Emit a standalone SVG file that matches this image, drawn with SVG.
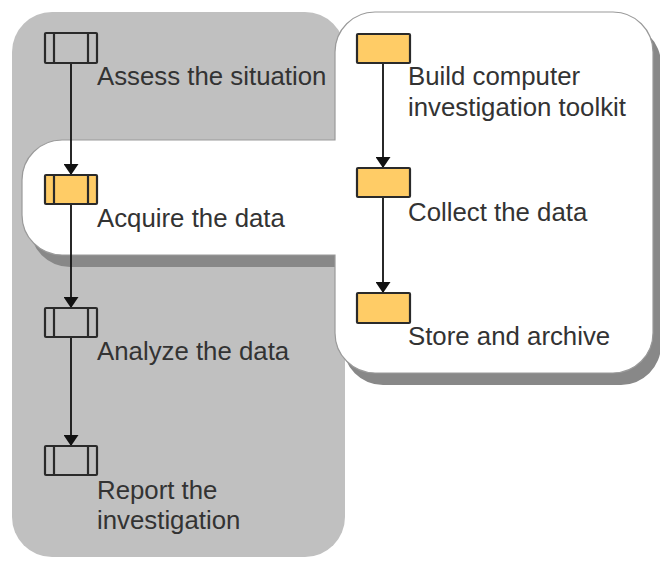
<svg xmlns="http://www.w3.org/2000/svg" width="660" height="561" viewBox="0 0 660 561">
<style>
.lbl{font-family:"Liberation Sans",Arial,sans-serif;font-size:25.8px;fill:#333}
.box{stroke:#2a2a2a;stroke-width:2.2}
.gray{fill:none}
.yel{fill:#FFCC66}
.conn{stroke:#111;stroke-width:1.8;fill:none}
</style>
<defs>
<marker id="arr" viewBox="0 0 11 15" refX="11" refY="7.5" markerWidth="11" markerHeight="15" markerUnits="userSpaceOnUse" orient="auto">
<path d="M0,0 L11,7.5 L0,15 Z" fill="#111"/>
</marker>
<path id="wshape" d="M335,52 A40,40 0 0 1 375,12 L613,12 A40,40 0 0 1 653,52 L653,333 A40,40 0 0 1 613,373 L375,373 A40,40 0 0 1 335,333 L335,255 L62,255 A40,40 0 0 1 22,215 L22,180 A40,40 0 0 1 62,140 L335,140 Z"/>
</defs>
<g id="background">
<rect x="12" y="12" width="333" height="545" rx="40" ry="40" fill="#c0c0c0"/>
<use href="#wshape" transform="translate(8,12)" fill="#888888"/>
<use href="#wshape" fill="#fff" stroke="#9a9a9a" stroke-width="1.2"/>
</g>
<g id="connectors">
<line class="conn" x1="71" y1="63" x2="71" y2="175" marker-end="url(#arr)"/>
<line class="conn" x1="71" y1="204" x2="71" y2="308" marker-end="url(#arr)"/>
<line class="conn" x1="71" y1="337" x2="71" y2="446" marker-end="url(#arr)"/>
<line class="conn" x1="383" y1="63" x2="383" y2="168" marker-end="url(#arr)"/>
<line class="conn" x1="383" y1="197" x2="383" y2="293" marker-end="url(#arr)"/>
</g>
<g id="assess">
<rect class="box gray" x="45" y="33" width="52" height="30" rx="1"/>
<line class="box" x1="54" y1="33" x2="54" y2="63"/><line class="box" x1="88" y1="33" x2="88" y2="63"/>
<text class="lbl" x="97" y="85">Assess the situation</text>
</g>
<g id="acquire">
<rect class="box yel" x="45" y="175" width="52" height="29" rx="1"/>
<line class="box" x1="54" y1="175" x2="54" y2="204"/><line class="box" x1="88" y1="175" x2="88" y2="204"/>
<text class="lbl" x="97" y="227">Acquire the data</text>
</g>
<g id="analyze">
<rect class="box gray" x="45" y="308" width="52" height="29" rx="1"/>
<line class="box" x1="54" y1="308" x2="54" y2="337"/><line class="box" x1="88" y1="308" x2="88" y2="337"/>
<text class="lbl" x="97" y="360">Analyze the data</text>
</g>
<g id="report">
<rect class="box gray" x="45" y="446" width="52" height="29" rx="1"/>
<line class="box" x1="54" y1="446" x2="54" y2="475"/><line class="box" x1="88" y1="446" x2="88" y2="475"/>
<text class="lbl" x="97" y="499">Report the</text>
<text class="lbl" x="97" y="529">investigation</text>
</g>
<g id="build">
<rect class="box yel" x="357" y="34" width="53" height="29" rx="1"/>
<text class="lbl" x="408" y="85">Build computer</text>
<text class="lbl" x="408" y="116">investigation toolkit</text>
</g>
<g id="collect">
<rect class="box yel" x="357" y="168" width="53" height="29" rx="1"/>
<text class="lbl" x="408" y="221">Collect the data</text>
</g>
<g id="store">
<rect class="box yel" x="357" y="293" width="53" height="30" rx="1"/>
<text class="lbl" x="408" y="345">Store and archive</text>
</g>
</svg>
